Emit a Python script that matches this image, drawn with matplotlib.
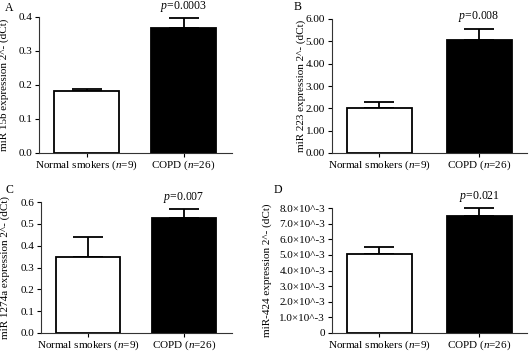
import numpy as np
import matplotlib
matplotlib.use("Agg")
import matplotlib.pyplot as plt
from matplotlib.ticker import FixedLocator, FixedFormatter

plt.rcParams['font.family'] = ['Liberation Serif', 'DejaVu Serif']
plt.rcParams['mathtext.fontset'] = 'custom'
plt.rcParams['mathtext.rm'] = 'Liberation Serif'
plt.rcParams['mathtext.it'] = 'Liberation Serif:italic'

# groups
groups = [r'Normal smokers ($\it{n}$=9)', r'COPD ($\it{n}$=26)']

# panel A - miR 15b
a_mean = [0.182, 0.367]
a_err = [0.006, 0.029]
a_p = r'$\it{p}$=0.0003'
a_ticks = [0.0, 0.1, 0.2, 0.3, 0.4]
a_labels = ['0.0', '0.1', '0.2', '0.3', '0.4']

# panel B - miR 223
b_mean = [2.03, 5.04]
b_err = [0.26, 0.53]
b_p = r'$\it{p}$=0.008'
b_ticks = [0, 1, 2, 3, 4, 5, 6]
b_labels = ['0.00', '1.00', '2.00', '3.00', '4.00', '5.00', '6.00']

# panel C - miR 1274a
c_mean = [0.350, 0.527]
c_err = [0.090, 0.042]
c_p = r'$\it{p}$=0.007'
c_ticks = [0.0, 0.1, 0.2, 0.3, 0.4, 0.5, 0.6]
c_labels = ['0.0', '0.1', '0.2', '0.3', '0.4', '0.5', '0.6']

# panel D - miR-424
d_mean = [5.08e-3, 7.47e-3]
d_err = [0.40e-3, 0.52e-3]
d_p = r'$\it{p}$=0.021'
d_ticks = [0, 1e-3, 2e-3, 3e-3, 4e-3, 5e-3, 6e-3, 7e-3, 8e-3]
d_labels = ['0', '1.0×10^-3', '2.0×10^-3', '3.0×10^-3', '4.0×10^-3',
            '5.0×10^-3', '6.0×10^-3', '7.0×10^-3', '8.0×10^-3']

W, H = 529, 351
fig = plt.figure(figsize=(W / 100, H / 100), dpi=100)


def px_axes(l, r, t, b):
    return fig.add_axes([l / W, 1 - b / H, (r - l) / W, (b - t) / H])


def panel(ax, mean, err, ptxt, ticks, labels, ylabel, xlim, width, labx):
    x = np.arange(len(mean))
    ax.bar(x, mean, width=width, color=['white', 'black'], edgecolor='black',
           linewidth=1.3, zorder=2)
    ax.errorbar(x, mean, yerr=[np.zeros(len(err)), err], fmt='none',
                ecolor='black', elinewidth=1.3, capsize=11, capthick=1.3,
                clip_on=False, zorder=1)
    ax.annotate(ptxt, (x[1], mean[1] + err[1]), xytext=(0, 3),
                textcoords='offset points', ha='center', va='bottom', fontsize=8.5)
    ax.set_xlim(*xlim)
    ax.set_ylim(ticks[0], ticks[-1])
    ax.yaxis.set_major_locator(FixedLocator(ticks))
    ax.yaxis.set_major_formatter(FixedFormatter(labels))
    ax.set_xticks(x)
    ax.set_xticklabels(groups)
    ax.tick_params(labelsize=8, length=3, width=0.8, pad=2)
    ax.tick_params(axis='x', pad=1)
    ax.spines['top'].set_visible(False)
    ax.spines['right'].set_visible(False)
    for s in ['left', 'bottom']:
        ax.spines[s].set_linewidth(0.8)
        ax.spines[s].set_color('#333333')
    ax.set_ylabel(ylabel, fontsize=8)
    ax.yaxis.set_label_coords(labx, 0.5)


axA = px_axes(39, 232, 17, 153)
panel(axA, a_mean, a_err, a_p, a_ticks, a_labels,
      'miR 15b expression 2^- (dCt)', (-0.49, 1.5), 0.67, -0.155)

axB = px_axes(332, 527, 19, 153)
panel(axB, b_mean, b_err, b_p, b_ticks, b_labels,
      'miR 223 expression 2^- (dCt)', (-0.47, 1.48), 0.65, -0.135)

axC = px_axes(41, 232, 202, 333)
panel(axC, c_mean, c_err, c_p, c_ticks, c_labels,
      'miR 1274a expression 2^- (dCt)', (-0.49, 1.5), 0.67, -0.16)

axD = px_axes(332, 527, 208, 333)
panel(axD, d_mean, d_err, d_p, d_ticks, d_labels,
      'miR-424 expression 2^- (dCt)', (-0.47, 1.48), 0.65, -0.31)

fig.text(5 / W, 1 - 8 / H, 'A', fontsize=8.5, va='center')
fig.text(294 / W, 1 - 7 / H, 'B', fontsize=8.5, va='center')
fig.text(6 / W, 1 - 190 / H, 'C', fontsize=8.5, va='center')
fig.text(274 / W, 1 - 190 / H, 'D', fontsize=8.5, va='center')

fig.savefig('out.png', dpi=100)
